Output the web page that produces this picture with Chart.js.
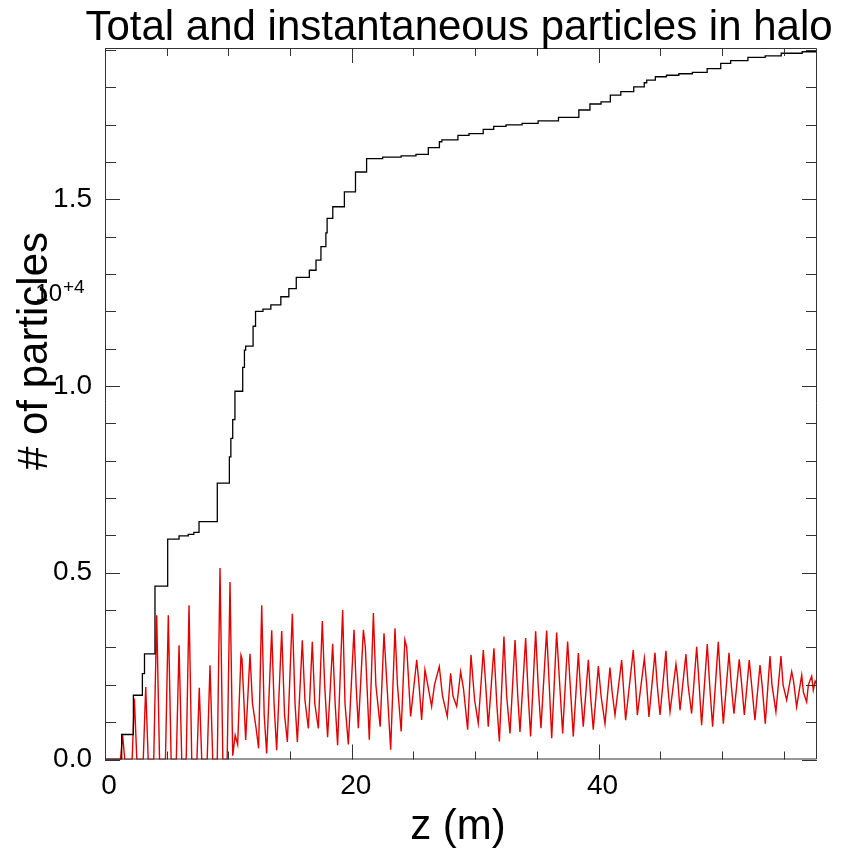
<!DOCTYPE html>
<html><head><meta charset="utf-8">
<script src="https://cdn.jsdelivr.net/npm/chart.js@4.4.1/dist/chart.umd.min.js"></script>
<style>html,body{margin:0;padding:0;background:#fff;} #c{display:block;}</style>
</head><body>
<canvas id="c" width="841" height="850"></canvas>
<script>
const titleText = "Total and instantaneous particles in halo";
const xTitle = "z (m)";
const yTitle = "# of particles";
const yExponent = ["10", "+4"];
const xTickLabels = [0, 20, 40];
const yTickLabels = [0.0, 0.5, 1.0, 1.5];
const xMax = 57.7, yMax = 1.905;

// Total particles in halo (units of 1e4), step function
const zTotal = [0, 1.35, 2.30, 3.03, 3.20, 4.05, 5.08, 6.00, 6.75, 7.20, 7.62, 9.10, 10.08, 10.20, 10.35, 10.53,
  11.16, 11.30, 11.40, 12.00, 12.20, 12.80, 13.44, 14.25, 14.90, 15.50, 16.56, 17.10, 17.50, 17.90, 18.00, 18.46,
  19.40, 20.30, 21.20, 22.50, 24.00, 25.20, 26.20, 27.10, 27.30, 28.60, 29.50, 30.65, 31.50, 32.50, 33.80, 35.10,
  36.75, 38.40, 39.30, 40.20, 40.95, 41.80, 42.85, 43.70, 43.90, 44.60, 45.50, 46.50, 47.60, 48.80, 49.90, 50.70,
  52.10, 53.50, 54.80, 56.50, 57.70];
const totalE4 = [0, 0.067, 0.172, 0.230, 0.283, 0.464, 0.590, 0.599, 0.603, 0.608, 0.637, 0.740, 0.810, 0.860, 0.910, 0.986,
  1.050, 1.096, 1.107, 1.160, 1.200, 1.206, 1.217, 1.239, 1.261, 1.291, 1.310, 1.337, 1.373, 1.410, 1.449, 1.480,
  1.520, 1.573, 1.609, 1.613, 1.616, 1.620, 1.638, 1.654, 1.659, 1.671, 1.676, 1.687, 1.695, 1.699, 1.703, 1.710,
  1.719, 1.739, 1.755, 1.761, 1.779, 1.788, 1.801, 1.812, 1.819, 1.828, 1.832, 1.836, 1.840, 1.850, 1.864, 1.871,
  1.880, 1.884, 1.891, 1.895, 1.895];

// Instantaneous particles in halo (units of 1e4)
const zInst = [
  0, 1.25, 1.43, 1.60, 2.20, 2.38, 2.58, 3.10, 3.30, 3.50, 3.95, 4.19, 4.42, 4.90, 5.13, 5.36,
  5.78, 6.00, 6.22, 6.58, 6.81, 7.03, 7.45, 7.64, 7.84, 8.28, 8.51, 8.73, 9.10, 9.32, 9.55,
  9.90, 10.13, 10.35, 10.55, 10.75, 11.02, 11.10, 11.40,
  11.75, 11.95, 12.24, 12.45, 12.70, 12.90, 13.10, 13.51, 13.70, 13.91, 14.32, 14.55, 14.78,
  15.18, 15.40, 15.59, 15.99, 16.20, 16.48, 16.80, 17.00, 17.29, 17.61, 17.80, 18.04,
  18.45, 18.65, 18.85, 19.26, 19.45, 19.72, 20.18, 20.35, 20.53, 20.94, 21.10, 21.42,
  21.75, 21.95, 22.30, 22.61, 22.85, 23.15, 23.50, 23.70, 24.00, 24.30, 24.45, 24.77,
  25.26, 25.45, 25.66, 25.93, 26.10, 26.47, 26.70, 27.09, 27.35, 27.74, 28.01, 28.20, 28.50,
  28.82, 29.05, 29.39, 29.66, 29.95, 30.25, 30.66, 30.85, 31.06, 31.52, 31.75, 31.96,
  32.33, 32.55, 32.82, 33.23, 33.45, 33.63, 34.09, 34.30, 34.49, 34.90, 35.10, 35.33,
  35.79, 36.00, 36.20, 36.60, 36.85, 37.09, 37.49, 37.70, 37.95, 38.36, 38.55, 38.76,
  39.17, 39.35, 39.57, 39.98, 40.20, 40.52, 40.92, 41.10, 41.33, 41.87, 42.00, 42.19,
  42.81, 43.00, 43.14, 43.71, 43.90, 44.08, 44.57, 44.75, 44.98, 45.46, 45.60, 45.79,
  46.27, 46.40, 46.60, 47.08, 47.25, 47.54, 47.95, 48.15, 48.35, 48.81, 49.00, 49.24,
  49.70, 49.90, 50.11, 50.57, 50.75, 50.97, 51.40, 51.60, 51.81, 52.21, 52.40, 52.67,
  53.08, 53.25, 53.51, 53.89, 54.05, 54.37, 54.78, 54.95, 55.24, 55.65, 55.80, 56.05,
  56.46, 56.60, 56.86, 57.00, 57.27, 57.40, 57.55, 57.70];
const instE4 = [
  0, 0, 0.065, 0, 0, 0.163, 0, 0, 0.194, 0, 0, 0.386, 0, 0, 0.386, 0,
  0, 0.306, 0, 0, 0.413, 0, 0, 0.192, 0, 0, 0.252, 0, 0, 0.513, 0,
  0, 0.475, 0.010, 0.065, 0.040, 0.279, 0.270, 0.052,
  0.283, 0.150, 0.085, 0.030, 0.413, 0.120, 0.016, 0.346, 0.150, 0.025, 0.344, 0.120, 0.047,
  0.390, 0.150, 0.047, 0.319, 0.160, 0.083, 0.315, 0.150, 0.083, 0.371, 0.200, 0.060,
  0.310, 0.150, 0.038, 0.400, 0.150, 0.040, 0.347, 0.200, 0.084, 0.347, 0.300, 0.053,
  0.392, 0.200, 0.088, 0.338, 0.200, 0.026, 0.351, 0.200, 0.075, 0.320, 0.300, 0.115,
  0.267, 0.200, 0.106, 0.240, 0.210, 0.142, 0.200, 0.249, 0.170, 0.115, 0.231, 0.170, 0.142,
  0.235, 0.190, 0.080, 0.280, 0.160, 0.097, 0.293, 0.200, 0.088, 0.298, 0.150, 0.048,
  0.329, 0.170, 0.070, 0.320, 0.170, 0.074, 0.325, 0.170, 0.062, 0.343, 0.200, 0.084,
  0.345, 0.200, 0.057, 0.340, 0.200, 0.070, 0.316, 0.200, 0.062, 0.285, 0.180, 0.088,
  0.267, 0.170, 0.080, 0.250, 0.170, 0.096, 0.246, 0.180, 0.119, 0.266, 0.200, 0.105,
  0.293, 0.200, 0.119, 0.271, 0.200, 0.114, 0.286, 0.200, 0.119, 0.291, 0.200, 0.128,
  0.255, 0.220, 0.132, 0.282, 0.200, 0.123, 0.302, 0.200, 0.092, 0.309, 0.200, 0.088,
  0.315, 0.200, 0.096, 0.286, 0.200, 0.123, 0.268, 0.200, 0.119, 0.266, 0.200, 0.105,
  0.253, 0.200, 0.096, 0.277, 0.200, 0.128, 0.277, 0.200, 0.159, 0.235, 0.210, 0.141,
  0.226, 0.180, 0.154, 0.200, 0.223, 0.186, 0.210, 0.200];

const FONT = '"Liberation Sans", Arial, Helvetica, sans-serif';

const frame = {
  id: 'frame',
  afterDraw(chart) {
    const {ctx, chartArea: a, scales: {x, y}} = chart;
    ctx.save();
    ctx.strokeStyle = '#333';
    ctx.lineWidth = 1;
    ctx.beginPath();
    ctx.rect(a.left + 0.5, a.top + 0.5, a.right - a.left - 1, a.bottom - a.top - 1);
    for (let i = 0; i <= 19; i++) {
      const py = Math.round(y.getPixelForValue(i / 10)) + 0.5;
      const len = (i % 5 === 0) ? 15 : 11;
      ctx.moveTo(a.left, py); ctx.lineTo(a.left + len, py);
      ctx.moveTo(a.right, py); ctx.lineTo(a.right - len, py);
    }
    for (let v = 0; v <= xMax; v += 5) {
      const px = Math.round(x.getPixelForValue(v)) + 0.5;
      const len = (v % 20 === 0) ? 15 : 8;
      ctx.moveTo(px, a.bottom); ctx.lineTo(px, a.bottom - len);
      ctx.moveTo(px, a.top); ctx.lineTo(px, a.top + len);
    }
    ctx.stroke();

    ctx.fillStyle = '#000';
    ctx.textBaseline = 'alphabetic';
    ctx.font = '42px ' + FONT;
    ctx.textAlign = 'center';
    ctx.fillText(titleText, 459, 40);
    ctx.fillText(xTitle, 458, 839);
    ctx.save();
    ctx.translate(47, 351);
    ctx.rotate(-Math.PI / 2);
    ctx.fillText(yTitle, 0, 0);
    ctx.restore();
    ctx.font = '24px ' + FONT;
    ctx.textAlign = 'right';
    ctx.fillText(yExponent[0], 62, 301);
    ctx.font = '19px ' + FONT;
    ctx.textAlign = 'left';
    ctx.fillText(yExponent[1], 63, 293);
    ctx.restore();
  }
};

new Chart(document.getElementById('c'), {
  type: 'line',
  data: {
    datasets: [
      {label: 'Total', data: zTotal.map((z, i) => ({x: z, y: totalE4[i]})),
       borderColor: '#000', borderWidth: 1.3, pointRadius: 0, stepped: true, fill: false},
      {label: 'Instantaneous', data: zInst.map((z, i) => ({x: z, y: instE4[i]})),
       borderColor: 'rgb(228,0,0)', borderWidth: 1.4, pointRadius: 0, tension: 0, fill: false}
    ]
  },
  options: {
    responsive: false, animation: false, devicePixelRatio: 1,
    layout: {padding: {top: 48, right: 24, left: 0, bottom: 0}},
    plugins: {legend: {display: false}, tooltip: {enabled: false}, title: {display: false}},
    scales: {
      x: {
        type: 'linear', min: 0, max: xMax,
        grid: {display: false, drawTicks: false}, border: {display: false},
        ticks: {stepSize: 20, autoSkip: false, maxRotation: 0, padding: 10, labelOffset: 4, color: '#000',
                font: {family: FONT, size: 28},
                callback: (v) => xTickLabels.includes(v) ? String(v) : ''},
        afterFit: (s) => { s.height = 90.5; }
      },
      y: {
        type: 'linear', min: 0, max: yMax,
        grid: {display: false, drawTicks: false}, border: {display: false},
        ticks: {stepSize: 0.5, autoSkip: false, padding: 13, color: '#000',
                font: {family: FONT, size: 28},
                callback: (v) => yTickLabels.some(t => Math.abs(t - v) < 1e-9) ? v.toFixed(1) : ''},
        afterFit: (s) => { s.width = 105; }
      }
    }
  },
  plugins: [frame]
});
</script>
</body></html>
